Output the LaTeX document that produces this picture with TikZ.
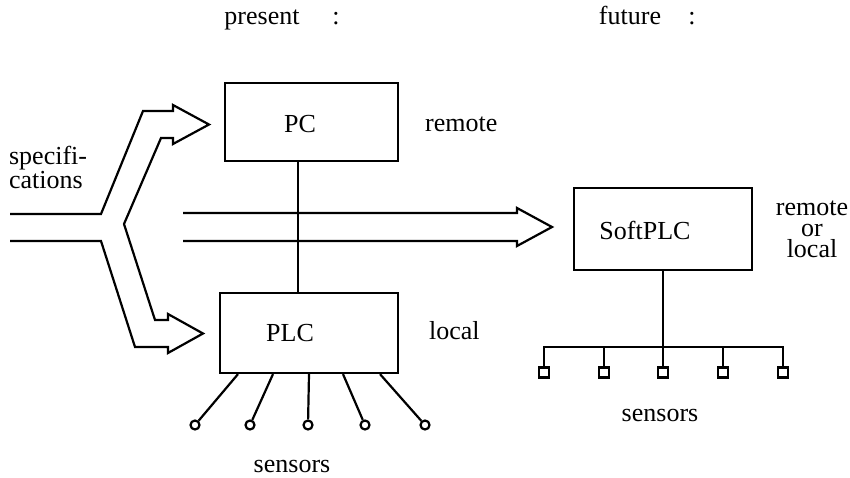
\documentclass[tikz,border=0pt]{standalone}
\usepackage{fontspec}
\setmainfont{Liberation Serif}
\begin{document}
\begin{tikzpicture}[x=1pt,y=-1pt, line width=2.2pt, line join=miter,
  every node/.style={font=\fontsize{26}{21}\selectfont, inner sep=0pt},
  unit/.style={draw, rectangle, inner sep=0pt},
  probe/.style={draw, circle, minimum size=9pt, inner sep=0pt},
  tap/.style={draw, rectangle, minimum size=10pt, inner sep=0pt},
  fatarrow/.style={line join=miter}]
\useasboundingbox (0,0) rectangle (850,477);

% headings
\node[anchor=base] (present) at (262,24) {present};
\node[anchor=base] (colA) at (336,24) {:};
\node[anchor=base] (future) at (630,24) {future};
\node[anchor=base] (colB) at (692,24) {:};

% present: PC above PLC
\node[unit, minimum width=173pt, minimum height=78pt] (PC) at (311.5,122) {};
\node (PCtext) at (300,124) {PC};
\node[anchor=base west] (rem) at (424,131) {remote};

\node[unit, minimum width=178pt, minimum height=80pt] (PLC) at (309,333) {};
\node (PLCtext) at (290,333) {PLC};
\node[anchor=base west] (loc) at (428,339) {local};

\draw ([xshift=-13.5pt]PC.south) -- ([xshift=-11pt]PLC.north);

% sensors of the PLC
\foreach \i/\x in {1/195,2/250,3/308,4/365,5/425}
  \node[probe] (s\i) at (\x,425) {};
\foreach \i/\d in {1/-71,2/-36,3/0,4/34,5/71}
  \draw ([xshift=\d pt]PLC.south) -- (s\i);
\node[anchor=base] (sensL) at (292,472) {sensors};

% specifications fork into PC and PLC
\node[anchor=base west, align=left] (spec) at (8,188) {specifi-\\cations};
\draw[fatarrow] (10,214) -- (101,214) -- (143,111) -- (173,111) -- (173,105)
  -- (209,124.5) -- (173,144) -- (173,138) -- (161,138) -- (124,224)
  -- (155,320) -- (168,320) -- (168,314) -- (203,333.5) -- (168,353)
  -- (168,347) -- (135,347) -- (101,241) -- (10,241);

% future: SoftPLC
\draw[fatarrow] (183,213) -- (517,213) -- (517,208) -- (552,227)
  -- (517,246) -- (517,241) -- (183,241);

\node[unit, minimum width=178pt, minimum height=82pt] (SoftPLC) at (663,229) {};
\node (SPLCtext) at (645,230) {SoftPLC};
\node[anchor=base, align=center] (rol) at (812,257) {remote\\or\\local};

\coordinate (bus) at (663,347);
\foreach \i/\x in {1/544,2/604,3/663,4/723,5/783}
  \node[tap] (q\i) at (\x,372.5) {};
\draw (SoftPLC.south) -- (bus);
\draw (q1.north) -- (q1 |- bus) -- (q5 |- bus) -- (q5.north);
\foreach \i in {2,3,4}
  \draw (q\i |- bus) -- (q\i.north);
\node[anchor=base] (sensR) at (660,421) {sensors};
\end{tikzpicture}
\end{document}
